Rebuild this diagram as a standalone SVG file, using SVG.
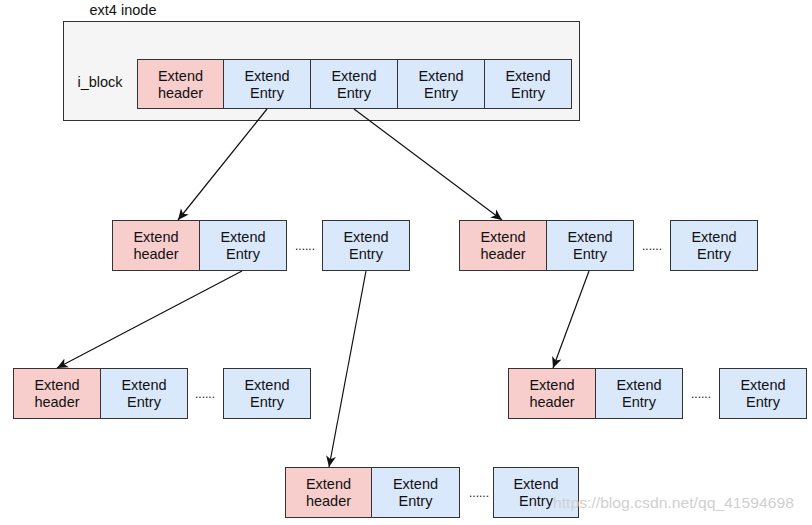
<svg xmlns="http://www.w3.org/2000/svg" width="812" height="525" viewBox="0 0 812 525">
<style>
text{font-family:"Liberation Sans",Arial,Helvetica,sans-serif;font-size:14.5px;fill:#111;}
.c{text-anchor:middle;}
.h{fill:#f8cecc;stroke:#333;stroke-width:1;}
.e{fill:#dae8fc;stroke:#333;stroke-width:1;}
.box{fill:#f5f5f5;stroke:#333;stroke-width:1;}
.dots{font-size:12px;text-anchor:middle;}
.conn{stroke:#111;stroke-width:1.2;fill:none;marker-end:url(#ah);}
.wm{fill:#d0d0d0;font-size:14.5px;}
</style>
<defs>
<marker id="ah" markerUnits="userSpaceOnUse" markerWidth="12" markerHeight="12" viewBox="0 0 12 12" refX="11" refY="6" orient="auto">
<path d="M0,1 L11,6 L0,11 L3,6 z" fill="#111"/>
</marker>
</defs>
<rect width="812" height="525" fill="#fff"/>

<g id="inode">
<text x="123" y="15" class="c">ext4 inode</text>
<rect class="box" x="63.5" y="21.5" width="516" height="99"/>
<text x="100" y="87" class="c">i_block</text>
<rect class="h" x="137.5" y="59.5" width="86" height="49"/>
<rect class="e" x="223.5" y="59.5" width="87" height="49"/>
<rect class="e" x="310.5" y="59.5" width="87" height="49"/>
<rect class="e" x="397.5" y="59.5" width="87" height="49"/>
<rect class="e" x="484.5" y="59.5" width="87" height="49"/>
<text x="180.5" y="81" class="c">Extend</text><text x="180.5" y="98" class="c">header</text>
<text x="267" y="81" class="c">Extend</text><text x="267" y="98" class="c">Entry</text>
<text x="354" y="81" class="c">Extend</text><text x="354" y="98" class="c">Entry</text>
<text x="441" y="81" class="c">Extend</text><text x="441" y="98" class="c">Entry</text>
<text x="528" y="81" class="c">Extend</text><text x="528" y="98" class="c">Entry</text>
</g>

<g id="l2left">
<rect class="h" x="112.5" y="220.5" width="87" height="50"/>
<rect class="e" x="199.5" y="220.5" width="87" height="50"/>
<rect class="e" x="322.5" y="220.5" width="87" height="50"/>
<text x="156" y="242" class="c">Extend</text><text x="156" y="259" class="c">header</text>
<text x="243" y="242" class="c">Extend</text><text x="243" y="259" class="c">Entry</text>
<text x="305" y="250" class="dots">......</text>
<text x="366" y="242" class="c">Extend</text><text x="366" y="259" class="c">Entry</text>
</g>

<g id="l2right">
<rect class="h" x="459.5" y="220.5" width="87" height="50"/>
<rect class="e" x="546.5" y="220.5" width="87" height="50"/>
<rect class="e" x="670.5" y="220.5" width="87" height="50"/>
<text x="503" y="242" class="c">Extend</text><text x="503" y="259" class="c">header</text>
<text x="590" y="242" class="c">Extend</text><text x="590" y="259" class="c">Entry</text>
<text x="652" y="250" class="dots">......</text>
<text x="714" y="242" class="c">Extend</text><text x="714" y="259" class="c">Entry</text>
</g>

<g id="l3left">
<rect class="h" x="13.5" y="368.5" width="87" height="50"/>
<rect class="e" x="100.5" y="368.5" width="87" height="50"/>
<rect class="e" x="223.5" y="368.5" width="87" height="50"/>
<text x="57" y="390" class="c">Extend</text><text x="57" y="407" class="c">header</text>
<text x="144" y="390" class="c">Extend</text><text x="144" y="407" class="c">Entry</text>
<text x="205" y="398" class="dots">......</text>
<text x="267" y="390" class="c">Extend</text><text x="267" y="407" class="c">Entry</text>
</g>

<g id="l3right">
<rect class="h" x="508.5" y="368.5" width="87" height="50"/>
<rect class="e" x="595.5" y="368.5" width="87" height="50"/>
<rect class="e" x="719.5" y="368.5" width="87" height="50"/>
<text x="552" y="390" class="c">Extend</text><text x="552" y="407" class="c">header</text>
<text x="639" y="390" class="c">Extend</text><text x="639" y="407" class="c">Entry</text>
<text x="701" y="398" class="dots">......</text>
<text x="763" y="390" class="c">Extend</text><text x="763" y="407" class="c">Entry</text>
</g>

<g id="l4">
<rect class="h" x="285.5" y="467.5" width="86" height="50"/>
<rect class="e" x="371.5" y="467.5" width="88" height="50"/>
<rect class="e" x="493.5" y="467.5" width="85" height="50"/>
<text x="328.5" y="489" class="c">Extend</text><text x="328.5" y="506" class="c">header</text>
<text x="415.5" y="489" class="c">Extend</text><text x="415.5" y="506" class="c">Entry</text>
<text x="479" y="497" class="dots">......</text>
<text x="536" y="489" class="c">Extend</text><text x="536" y="506" class="c">Entry</text>
</g>

<g id="connectors">
<line class="conn" x1="267" y1="109" x2="178" y2="220"/>
<line class="conn" x1="354" y1="109" x2="502" y2="220"/>
<line class="conn" x1="242" y1="271" x2="57" y2="368"/>
<line class="conn" x1="366" y1="271" x2="329" y2="467"/>
<line class="conn" x1="589" y1="271" x2="553" y2="368"/>
</g>

<text class="wm" x="553" y="508" textLength="241" lengthAdjust="spacingAndGlyphs">https://blog.csdn.net/qq_41594698</text>
</svg>
